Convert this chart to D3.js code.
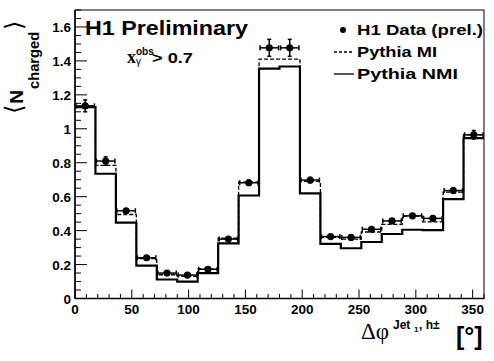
<!DOCTYPE html>
<html><head><meta charset="utf-8">
<script src="https://cdn.jsdelivr.net/npm/d3@7"></script>
<style>
html,body{margin:0;padding:0;background:#fff;}
svg{display:block;}
text{font-family:"Liberation Sans",Arial,Helvetica,sans-serif;font-weight:bold;fill:#000;}
</style></head>
<body>
<script>
// ---- data ----
const binEdges = [0,18,36,54,72,90,108,126,144,162,180,198,216,234,252,270,288,306,324,342,360];
const dataValues = [1.135,0.81,0.517,0.24,0.15,0.138,0.172,0.35,0.682,1.477,1.477,0.698,0.365,0.36,0.408,0.457,0.487,0.472,0.636,0.965];
const dataErrors = [0.035,0.025,0.012,0.01,0.01,0.01,0.01,0.01,0.015,0.05,0.05,0.015,0.01,0.01,0.01,0.012,0.012,0.012,0.015,0.025];
const pythiaMI  = [1.13,0.785,0.495,0.235,0.14,0.13,0.175,0.355,0.685,1.41,1.41,0.69,0.36,0.35,0.392,0.437,0.485,0.452,0.627,0.965];
const pythiaNMI = [1.128,0.735,0.447,0.194,0.112,0.10,0.149,0.325,0.607,1.355,1.367,0.62,0.322,0.296,0.333,0.38,0.405,0.403,0.585,0.945];
const xTicks = [0,50,100,150,200,250,300,350];
const yTicks = [0,0.2,0.4,0.6,0.8,1,1.2,1.4,1.6];
const yTickLabels = ["0","0.2","0.4","0.6","0.8","1","1.2","1.4","1.6"];

const W = 494, H = 361;
const m = {left:75, top:10, right:10, bottom:62.5};
const svg = d3.select("body").append("svg").attr("width",W).attr("height",H);

const x = d3.scaleLinear().domain([0,360]).range([m.left, W-m.right]);
const y = d3.scaleLinear().domain([0,1.7]).range([H-m.bottom, m.top]);

// frame
svg.append("rect").attr("x",x(0)).attr("y",y(1.7)).attr("width",x(360)-x(0)).attr("height",y(0)-y(1.7))
  .attr("fill","none").attr("stroke","#000").attr("stroke-width",1);

// x axis (ticks inside)
const gx = svg.append("g").attr("transform",`translate(0,${y(0)})`);
gx.selectAll("line.t").data(d3.range(0,361,10)).enter().append("line")
  .attr("x1",d=>x(d)).attr("x2",d=>x(d)).attr("y1",0).attr("y2",d=>d%50===0?-9:-4.5)
  .attr("stroke","#000").attr("stroke-width",1);
gx.append("line").attr("x1",x(0)).attr("x2",x(360)).attr("stroke","#000").attr("stroke-width",1.5);
gx.selectAll("text").data(xTicks).enter().append("text")
  .attr("x",d=>x(d)).attr("y",15.5).attr("text-anchor","middle").attr("font-size",13.5).text(d=>d);

// y axis
const gy = svg.append("g").attr("transform",`translate(${x(0)},0)`);
gy.selectAll("line.t").data(d3.range(0,1.7001,0.05)).enter().append("line")
  .attr("y1",d=>y(d)).attr("y2",d=>y(d)).attr("x1",0)
  .attr("x2",d=>Math.abs(Math.round(d*100)%20)===0?12:6)
  .attr("stroke","#000").attr("stroke-width",1);
gy.append("line").attr("y1",y(0)).attr("y2",y(1.7)).attr("stroke","#000").attr("stroke-width",1.5);
gy.selectAll("text").data(yTicks).enter().append("text")
  .attr("x",-4).attr("y",d=>y(d)+5).attr("text-anchor","end").attr("font-size",13.5)
  .text((d,i)=>yTickLabels[i]);

// histograms
const stepPts = vals => vals.map((v,i)=>[binEdges[i],v]).concat([[360,vals[vals.length-1]]]);
const line = d3.line().x(d=>x(d[0])).y(d=>y(d[1])).curve(d3.curveStepAfter);
svg.append("path").attr("d",line(stepPts(pythiaMI))).attr("fill","none")
  .attr("stroke","#000").attr("stroke-width",1.3).attr("stroke-dasharray","4,2");
svg.append("path").attr("d",line(stepPts(pythiaNMI))).attr("fill","none")
  .attr("stroke","#000").attr("stroke-width",2.2);

// data points
const pts = svg.append("g");
dataValues.forEach((v,i)=>{
  const x0 = x(binEdges[i]), x1 = x(binEdges[i+1]), xc = (x0+x1)/2, yc = y(v);
  const e = dataErrors[i];
  const g = pts.append("g").attr("stroke","#000").attr("stroke-width",1.5);
  g.append("line").attr("x1",x0+1).attr("x2",x1-1).attr("y1",yc).attr("y2",yc);
  g.append("line").attr("x1",x0+1).attr("x2",x0+1).attr("y1",yc-2.5).attr("y2",yc+2.5);
  g.append("line").attr("x1",x1-1).attr("x2",x1-1).attr("y1",yc-2.5).attr("y2",yc+2.5);
  g.append("line").attr("x1",xc).attr("x2",xc).attr("y1",y(v+e)).attr("y2",y(v-e));
  g.append("line").attr("x1",xc-2).attr("x2",xc+2).attr("y1",y(v+e)).attr("y2",y(v+e));
  g.append("line").attr("x1",xc-2).attr("x2",xc+2).attr("y1",y(v-e)).attr("y2",y(v-e));
  pts.append("circle").attr("cx",xc).attr("cy",yc).attr("r",3.6).attr("fill","#000");
});

// texts
svg.append("text").attr("x",85).attr("y",35).attr("font-size",20)
  .attr("textLength",163).attr("lengthAdjust","spacingAndGlyphs").text("H1 Preliminary");

svg.append("text").attr("x",127).attr("y",63).attr("font-size",18)
  .style("font-family","'Liberation Serif',serif").text("x");
svg.append("text").attr("x",136).attr("y",55).attr("font-size",10).text("obs");
svg.append("text").attr("x",136).attr("y",65).attr("font-size",10).style("font-weight","normal").text("γ");
svg.append("text").attr("x",152).attr("y",63).attr("font-size",14)
  .attr("textLength",41).attr("lengthAdjust","spacingAndGlyphs").text("> 0.7");

// legend
svg.append("circle").attr("cx",343).attr("cy",30).attr("r",3).attr("fill","#000");
svg.append("text").attr("x",357).attr("y",35).attr("font-size",14)
  .attr("textLength",126).attr("lengthAdjust","spacingAndGlyphs").text("H1 Data (prel.)");
svg.append("line").attr("x1",334).attr("x2",354).attr("y1",52).attr("y2",52)
  .attr("stroke","#000").attr("stroke-width",1.3).attr("stroke-dasharray","3,2");
svg.append("text").attr("x",357).attr("y",57).attr("font-size",14)
  .attr("textLength",80).attr("lengthAdjust","spacingAndGlyphs").text("Pythia MI");
svg.append("line").attr("x1",334).attr("x2",354).attr("y1",74).attr("y2",74)
  .attr("stroke","#000").attr("stroke-width",1.3);
svg.append("text").attr("x",357).attr("y",79).attr("font-size",14)
  .attr("textLength",101).attr("lengthAdjust","spacingAndGlyphs").text("Pythia NMI");

// y title
const yt = svg.append("text").attr("transform","translate(23,114) rotate(-90)");
yt.append("tspan").attr("font-size",24).style("font-weight","normal").style("font-family","'DejaVu Sans',sans-serif").attr("dy",-1).text("⟨");
yt.append("tspan").attr("font-size",19).attr("dy",1).attr("dx",1).text("N");
yt.append("tspan").attr("font-size",15).attr("dy",16).attr("dx",1).attr("textLength",57).attr("lengthAdjust","spacingAndGlyphs").text("charged");
yt.append("tspan").attr("font-size",24).style("font-weight","normal").style("font-family","'DejaVu Sans',sans-serif").attr("dy",-17).attr("dx",2).text("⟩");

// x title
svg.append("text").attr("x",361).attr("y",339).attr("font-size",23)
  .style("font-weight","normal").style("font-family","'Liberation Serif',serif").text("Δφ");
svg.append("text").attr("x",393).attr("y",329).attr("font-size",12).text("Jet");
svg.append("text").attr("x",414).attr("y",332).attr("font-size",8).text("1");
svg.append("text").attr("x",419).attr("y",329).attr("font-size",12).text(", h±");
svg.append("text").attr("x",456).attr("y",345).attr("font-size",25).text("[°]");
</script>
</body></html>
